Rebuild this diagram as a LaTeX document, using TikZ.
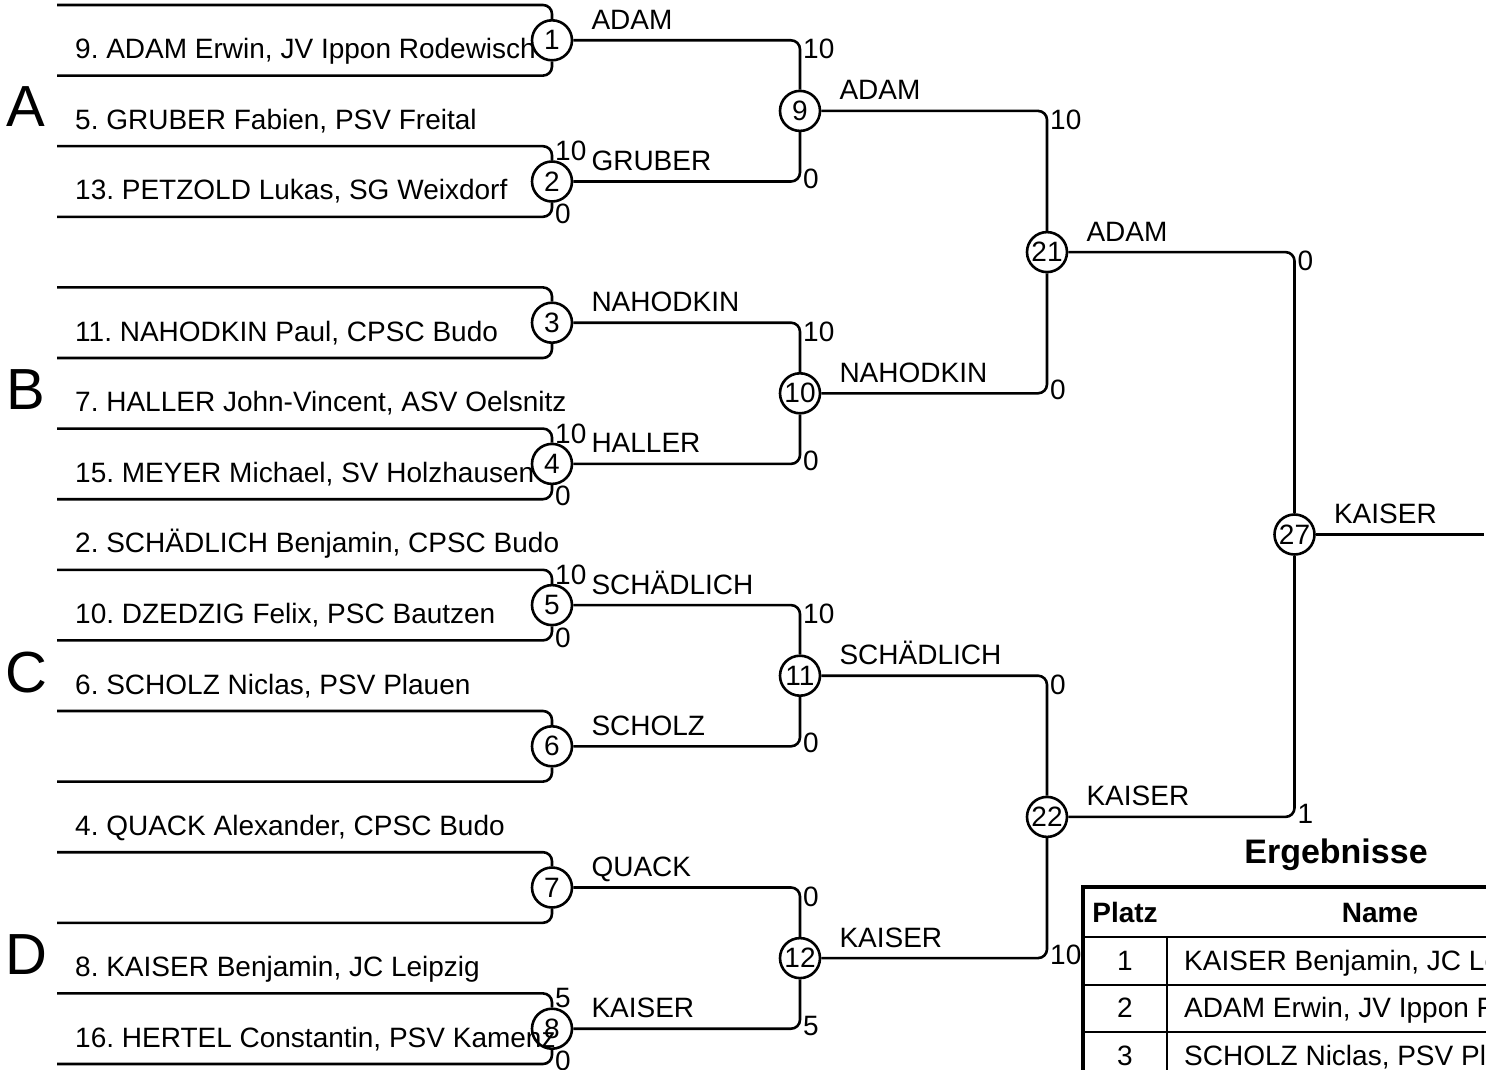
\documentclass[tikz,border=0pt]{standalone}
\usepackage{fontspec}
\setmainfont{Liberation Sans}
\usetikzlibrary{positioning,calc}
\frenchspacing

\begin{document}
\begin{tikzpicture}[
  x=1pt,y=-1pt,
  every node/.style={font=\fontsize{28}{32}\selectfont},
  bracket/.style={line width=2.6pt,rounded corners=9pt},
  match/.style={draw,circle,line width=2.6pt,minimum size=40pt,inner sep=0pt},
  entry/.style={anchor=base west,inner sep=0pt},
  winner/.style={anchor=base west,inner sep=0pt},
  scfirst/.style={anchor=west,inner sep=3pt,yshift=-5pt},
  sctop/.style={anchor=west,inner sep=3pt,yshift=-9pt},
  scbot/.style={anchor=west,inner sep=3pt,yshift=3pt},
  pool/.style={anchor=base,inner sep=0pt,font=\fontsize{58}{60}\selectfont},
  cell/.style={anchor=base,inner sep=0pt},
  cellname/.style={anchor=base west,inner sep=0pt}
]
  \useasboundingbox (0,0) rectangle (1486,1070);
  \clip (0,0) rectangle (1486,1070);

  % entry lines
  \coordinate (e0) at (57,5);      \coordinate (e1) at (57,75.6);
  \coordinate (e2) at (57,146.2);  \coordinate (e3) at (57,216.8);
  \coordinate (e4) at (57,287.4);  \coordinate (e5) at (57,358);
  \coordinate (e6) at (57,428.6);  \coordinate (e7) at (57,499.2);
  \coordinate (e8) at (57,569.8);  \coordinate (e9) at (57,640.4);
  \coordinate (e10) at (57,711);   \coordinate (e11) at (57,781.6);
  \coordinate (e12) at (57,852.2); \coordinate (e13) at (57,922.8);
  \coordinate (e14) at (57,993.4); \coordinate (e15) at (57,1064);

  \node[entry] (n1) at ([shift={(18pt,17pt)}]e1) {9. ADAM Erwin, JV Ippon Rodewisch};
  \node[entry] (n2) at ([shift={(18pt,17pt)}]e2) {5. GRUBER Fabien, PSV Freital};
  \node[entry] (n3) at ([shift={(18pt,17pt)}]e3) {13. PETZOLD Lukas, SG Weixdorf};
  \node[entry] (n5) at ([shift={(18pt,17pt)}]e5) {11. NAHODKIN Paul, CPSC Budo};
  \node[entry] (n6) at ([shift={(18pt,17pt)}]e6) {7. HALLER John-Vincent, ASV Oelsnitz};
  \node[entry] (n7) at ([shift={(18pt,17pt)}]e7) {15. MEYER Michael, SV Holzhausen};
  \node[entry] (n8) at ([shift={(18pt,17pt)}]e8) {2. SCHÄDLICH Benjamin, CPSC Budo};
  \node[entry] (n9) at ([shift={(18pt,17pt)}]e9) {10. DZEDZIG Felix, PSC Bautzen};
  \node[entry] (n10) at ([shift={(18pt,17pt)}]e10) {6. SCHOLZ Niclas, PSV Plauen};
  \node[entry] (n12) at ([shift={(18pt,17pt)}]e12) {4. QUACK Alexander, CPSC Budo};
  \node[entry] (n14) at ([shift={(18pt,17pt)}]e14) {8. KAISER Benjamin, JC Leipzig};
  \node[entry] (n15) at ([shift={(18pt,17pt)}]e15) {16. HERTEL Constantin, PSV Kamenz};

  \node[pool] (poolA) at (26,127) {A};
  \node[pool] (poolB) at (26,409) {B};
  \node[pool] (poolC) at (26,692) {C};
  \node[pool] (poolD) at (26,974) {D};

  % matches
  \node[match] (m1) at (552,40.3) {1};
  \node[match] (m2) at (552,181.5) {2};
  \node[match] (m3) at (552,322.7) {3};
  \node[match] (m4) at (552,463.9) {4};
  \node[match] (m5) at (552,605.1) {5};
  \node[match] (m6) at (552,746.3) {6};
  \node[match] (m7) at (552,887.5) {7};
  \node[match] (m8) at (552,1028.7) {8};
  \node[match] (m9) at (800,110.9) {9};
  \node[match] (m10) at (800,393.3) {10};
  \node[match] (m11) at (800,675.7) {11};
  \node[match] (m12) at (800,958.1) {12};
  \node[match] (m21) at (1047,252.1) {21};
  \node[match] (m22) at (1047,816.9) {22};
  \node[match] (m27) at (1294.5,534.5) {27};
  \coordinate (fin) at (1484,534.5);

  \draw[bracket] (e0) -| (m1);   \draw[bracket] (e1) -| (m1);
  \draw[bracket] (e2) -| (m2);   \draw[bracket] (e3) -| (m2);
  \draw[bracket] (e4) -| (m3);   \draw[bracket] (e5) -| (m3);
  \draw[bracket] (e6) -| (m4);   \draw[bracket] (e7) -| (m4);
  \draw[bracket] (e8) -| (m5);   \draw[bracket] (e9) -| (m5);
  \draw[bracket] (e10) -| (m6);  \draw[bracket] (e11) -| (m6);
  \draw[bracket] (e12) -| (m7);  \draw[bracket] (e13) -| (m7);
  \draw[bracket] (e14) -| (m8);  \draw[bracket] (e15) -| (m8);
  \draw[bracket] (m1) -| (m9);   \draw[bracket] (m2) -| (m9);
  \draw[bracket] (m3) -| (m10);  \draw[bracket] (m4) -| (m10);
  \draw[bracket] (m5) -| (m11);  \draw[bracket] (m6) -| (m11);
  \draw[bracket] (m7) -| (m12);  \draw[bracket] (m8) -| (m12);
  \draw[bracket] (m9) -| (m21);  \draw[bracket] (m10) -| (m21);
  \draw[bracket] (m11) -| (m22); \draw[bracket] (m12) -| (m22);
  \draw[bracket] (m21) -| (m27); \draw[bracket] (m22) -| (m27);
  \draw[bracket] (m27) -- (fin);

  % winners
  \node[winner] (w1) at ([shift={(18pt,11pt)}]m1.east) {ADAM};
  \node[winner] (w2) at ([shift={(18pt,11pt)}]m2.east) {GRUBER};
  \node[winner] (w3) at ([shift={(18pt,11pt)}]m3.east) {NAHODKIN};
  \node[winner] (w4) at ([shift={(18pt,11pt)}]m4.east) {HALLER};
  \node[winner] (w5) at ([shift={(18pt,11pt)}]m5.east) {SCHÄDLICH};
  \node[winner] (w6) at ([shift={(18pt,11pt)}]m6.east) {SCHOLZ};
  \node[winner] (w7) at ([shift={(18pt,11pt)}]m7.east) {QUACK};
  \node[winner] (w8) at ([shift={(18pt,11pt)}]m8.east) {KAISER};
  \node[winner] (w9) at ([shift={(18pt,11pt)}]m9.east) {ADAM};
  \node[winner] (w10) at ([shift={(18pt,11pt)}]m10.east) {NAHODKIN};
  \node[winner] (w11) at ([shift={(18pt,11pt)}]m11.east) {SCHÄDLICH};
  \node[winner] (w12) at ([shift={(18pt,11pt)}]m12.east) {KAISER};
  \node[winner] (w21) at ([shift={(18pt,11pt)}]m21.east) {ADAM};
  \node[winner] (w22) at ([shift={(18pt,11pt)}]m22.east) {KAISER};
  \node[winner] (w27) at ([shift={(18pt,11pt)}]m27.east) {KAISER};

  % scores
  \node[scfirst] (s2t) at (m2 |- e2) {10};   \node[scbot] (s2b) at (m2 |- e3) {0};
  \node[scfirst] (s4t) at (m4 |- e6) {10};   \node[scbot] (s4b) at (m4 |- e7) {0};
  \node[scfirst] (s5t) at (m5 |- e8) {10};   \node[scbot] (s5b) at (m5 |- e9) {0};
  \node[scfirst] (s8t) at (m8 |- e14) {5};   \node[scbot] (s8b) at (m8 |- e15) {0};
  \node[sctop] (s9t) at (m9 |- m1) {10};     \node[scbot] (s9b) at (m9 |- m2) {0};
  \node[sctop] (s10t) at (m10 |- m3) {10};   \node[scbot] (s10b) at (m10 |- m4) {0};
  \node[sctop] (s11t) at (m11 |- m5) {10};   \node[scbot] (s11b) at (m11 |- m6) {0};
  \node[sctop] (s12t) at (m12 |- m7) {0};    \node[scbot] (s12b) at (m12 |- m8) {5};
  \node[sctop] (s21t) at (m21 |- m9) {10};   \node[scbot] (s21b) at (m21 |- m10) {0};
  \node[sctop] (s22t) at (m22 |- m11) {0};   \node[scbot] (s22b) at (m22 |- m12) {10};
  \node[sctop] (s27t) at (m27 |- m21) {0};   \node[scbot] (s27b) at (m27 |- m22) {1};

  % results table
  \node[anchor=base,inner sep=0pt,font=\fontsize{34}{38}\selectfont\bfseries] (ergeb) at (1336,863) {Ergebnisse};
  \draw[line width=2pt] (1083,937) -- (1595,937);
  \draw[line width=2pt] (1083,984.5) -- (1595,984.5);
  \draw[line width=2pt] (1083,1032) -- (1595,1032);
  \draw[line width=2pt] (1083,1079.5) -- (1595,1079.5);
  \draw[line width=2pt] (1167,937) -- (1167,1127);
  \draw[line width=4pt] (1083,887) rectangle (1595,1127);
  \node[cell,font=\fontsize{28}{32}\selectfont\bfseries] (hplatz) at (1125,922) {Platz};
  \node[cell,font=\fontsize{28}{32}\selectfont\bfseries] (hname) at (1380,922) {Name};
  \node[cell] (p1) at (1125,970) {1};
  \node[cell] (p2) at (1125,1017.5) {2};
  \node[cell] (p3) at (1125,1065) {3};
  \node[cellname] (r1) at (1184,970) {KAISER Benjamin, JC Leipzig};
  \node[cellname] (r2) at (1184,1017.5) {ADAM Erwin, JV Ippon Rodewisch};
  \node[cellname] (r3) at (1184,1065) {SCHOLZ Niclas, PSV Plauen};
\end{tikzpicture}
\end{document}
